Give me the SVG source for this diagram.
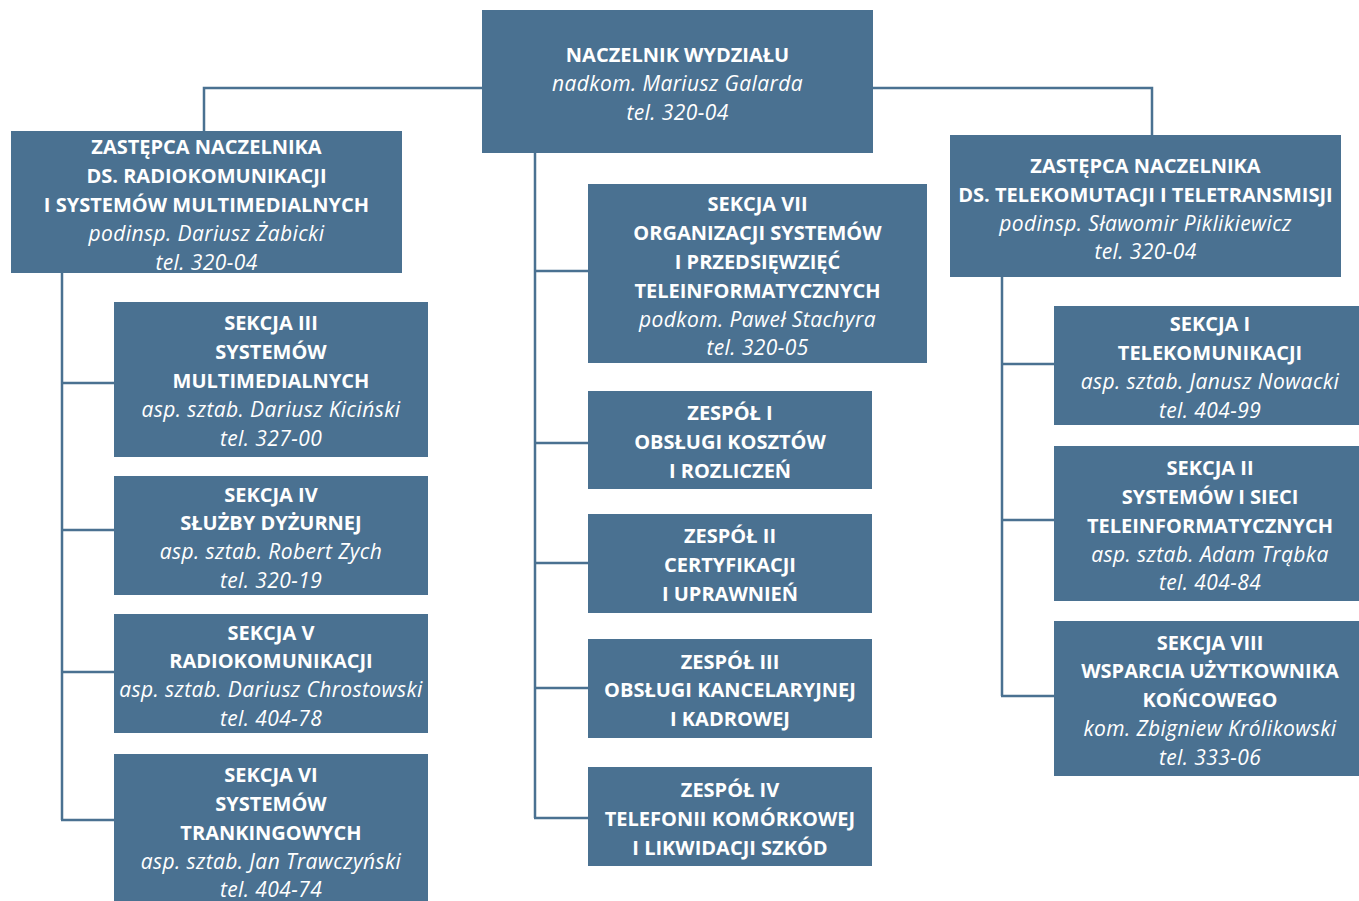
<svg xmlns="http://www.w3.org/2000/svg" width="1359" height="901" viewBox="0 0 1359 901">
<style>
.box{fill:#4A7191}
.c{fill:none;stroke:#4A7191;stroke-width:2.5}
text{font-family:"Open Sans","Noto Sans","Liberation Sans",sans-serif;fill:#fff;text-anchor:middle;font-size:20px}
.b{font-weight:bold}
.i{font-style:italic;font-size:21px;letter-spacing:0.4px}
</style>
<rect width="1359" height="901" fill="#fff"/>
<g id="connectors">
<polyline class="c" points="204,131 204,88 482,88"/>
<polyline class="c" points="873,88 1152,88 1152,135"/>
<line class="c" x1="535" y1="153" x2="535" y2="818"/>
<line class="c" x1="535" y1="271" x2="588" y2="271"/>
<line class="c" x1="535" y1="443" x2="588" y2="443"/>
<line class="c" x1="535" y1="563" x2="588" y2="563"/>
<line class="c" x1="535" y1="688" x2="588" y2="688"/>
<line class="c" x1="534" y1="818" x2="588" y2="818"/>
<line class="c" x1="62" y1="273" x2="62" y2="820"/>
<line class="c" x1="62" y1="383" x2="114" y2="383"/>
<line class="c" x1="62" y1="530" x2="114" y2="530"/>
<line class="c" x1="62" y1="672" x2="114" y2="672"/>
<line class="c" x1="61" y1="820" x2="114" y2="820"/>
<line class="c" x1="1002" y1="277" x2="1002" y2="696"/>
<line class="c" x1="1002" y1="364" x2="1054" y2="364"/>
<line class="c" x1="1002" y1="520" x2="1054" y2="520"/>
<line class="c" x1="1001" y1="696" x2="1054" y2="696"/>
</g>
<g id="naczelnik">
<rect class="box" x="482" y="10" width="391" height="143"/>
<text x="677.5" y="62" class="b">NACZELNIK WYDZIAŁU</text>
<text x="677.5" y="91" class="i">nadkom. Mariusz Galarda</text>
<text x="677.5" y="120" class="i">tel. 320-04</text>
</g>
<g id="zastepca-radio">
<rect class="box" x="11" y="131" width="391" height="142"/>
<text x="206.5" y="154" class="b">ZASTĘPCA NACZELNIKA</text>
<text x="206.5" y="183" class="b">DS. RADIOKOMUNIKACJI</text>
<text x="206.5" y="212" class="b">I SYSTEMÓW MULTIMEDIALNYCH</text>
<text x="206.5" y="241" class="i">podinsp. Dariusz Żabicki</text>
<text x="206.5" y="270" class="i">tel. 320-04</text>
</g>
<g id="zastepca-tele">
<rect class="box" x="950" y="135" width="391" height="142"/>
<text x="1145.5" y="173" class="b">ZASTĘPCA NACZELNIKA</text>
<text x="1145.5" y="202" class="b">DS. TELEKOMUTACJI I TELETRANSMISJI</text>
<text x="1145.5" y="231" class="i">podinsp. Sławomir Piklikiewicz</text>
<text x="1145.5" y="259" class="i">tel. 320-04</text>
</g>
<g id="sekcja-3">
<rect class="box" x="114" y="302" width="314" height="155"/>
<text x="271" y="330" class="b">SEKCJA III</text>
<text x="271" y="359" class="b">SYSTEMÓW</text>
<text x="271" y="388" class="b">MULTIMEDIALNYCH</text>
<text x="271" y="417" class="i">asp. sztab. Dariusz Kiciński</text>
<text x="271" y="446" class="i">tel. 327-00</text>
</g>
<g id="sekcja-4">
<rect class="box" x="114" y="476" width="314" height="119"/>
<text x="271" y="502" class="b">SEKCJA IV</text>
<text x="271" y="530" class="b">SŁUŻBY DYŻURNEJ</text>
<text x="271" y="559" class="i">asp. sztab. Robert Zych</text>
<text x="271" y="588" class="i">tel. 320-19</text>
</g>
<g id="sekcja-5">
<rect class="box" x="114" y="614" width="314" height="119"/>
<text x="271" y="640" class="b">SEKCJA V</text>
<text x="271" y="668" class="b">RADIOKOMUNIKACJI</text>
<text x="271" y="697" class="i">asp. sztab. Dariusz Chrostowski</text>
<text x="271" y="726" class="i">tel. 404-78</text>
</g>
<g id="sekcja-6">
<rect class="box" x="114" y="754" width="314" height="147"/>
<text x="271" y="782" class="b">SEKCJA VI</text>
<text x="271" y="811" class="b">SYSTEMÓW</text>
<text x="271" y="840" class="b">TRANKINGOWYCH</text>
<text x="271" y="869" class="i">asp. sztab. Jan Trawczyński</text>
<text x="271" y="897" class="i">tel. 404-74</text>
</g>
<g id="sekcja-7">
<rect class="box" x="588" y="184" width="339" height="179"/>
<text x="757.5" y="211" class="b">SEKCJA VII</text>
<text x="757.5" y="240" class="b">ORGANIZACJI SYSTEMÓW</text>
<text x="757.5" y="269" class="b">I PRZEDSIĘWZIĘĆ</text>
<text x="757.5" y="298" class="b">TELEINFORMATYCZNYCH</text>
<text x="757.5" y="327" class="i">podkom. Paweł Stachyra</text>
<text x="757.5" y="355" class="i">tel. 320-05</text>
</g>
<g id="zespol-1">
<rect class="box" x="588" y="391" width="284" height="98"/>
<text x="730" y="420" class="b">ZESPÓŁ I</text>
<text x="730" y="449" class="b">OBSŁUGI KOSZTÓW</text>
<text x="730" y="478" class="b">I ROZLICZEŃ</text>
</g>
<g id="zespol-2">
<rect class="box" x="588" y="514" width="284" height="99"/>
<text x="730" y="543" class="b">ZESPÓŁ II</text>
<text x="730" y="572" class="b">CERTYFIKACJI</text>
<text x="730" y="601" class="b">I UPRAWNIEŃ</text>
</g>
<g id="zespol-3">
<rect class="box" x="588" y="639" width="284" height="99"/>
<text x="730" y="669" class="b">ZESPÓŁ III</text>
<text x="730" y="697" class="b">OBSŁUGI KANCELARYJNEJ</text>
<text x="730" y="726" class="b">I KADROWEJ</text>
</g>
<g id="zespol-4">
<rect class="box" x="588" y="767" width="284" height="99"/>
<text x="730" y="797" class="b">ZESPÓŁ IV</text>
<text x="730" y="826" class="b">TELEFONII KOMÓRKOWEJ</text>
<text x="730" y="855" class="b">I LIKWIDACJI SZKÓD</text>
</g>
<g id="sekcja-1">
<rect class="box" x="1054" y="306" width="305" height="119"/>
<text x="1210" y="331" class="b">SEKCJA I</text>
<text x="1210" y="360" class="b">TELEKOMUNIKACJI</text>
<text x="1210" y="389" class="i">asp. sztab. Janusz Nowacki</text>
<text x="1210" y="418" class="i">tel. 404-99</text>
</g>
<g id="sekcja-2">
<rect class="box" x="1054" y="446" width="305" height="155"/>
<text x="1210" y="475" class="b">SEKCJA II</text>
<text x="1210" y="504" class="b">SYSTEMÓW I SIECI</text>
<text x="1210" y="533" class="b">TELEINFORMATYCZNYCH</text>
<text x="1210" y="562" class="i">asp. sztab. Adam Trąbka</text>
<text x="1210" y="590" class="i">tel. 404-84</text>
</g>
<g id="sekcja-8">
<rect class="box" x="1054" y="621" width="305" height="155"/>
<text x="1210" y="650" class="b">SEKCJA VIII</text>
<text x="1210" y="678" class="b">WSPARCIA UŻYTKOWNIKA</text>
<text x="1210" y="707" class="b">KOŃCOWEGO</text>
<text x="1210" y="736" class="i">kom. Zbigniew Królikowski</text>
<text x="1210" y="765" class="i">tel. 333-06</text>
</g>
</svg>
